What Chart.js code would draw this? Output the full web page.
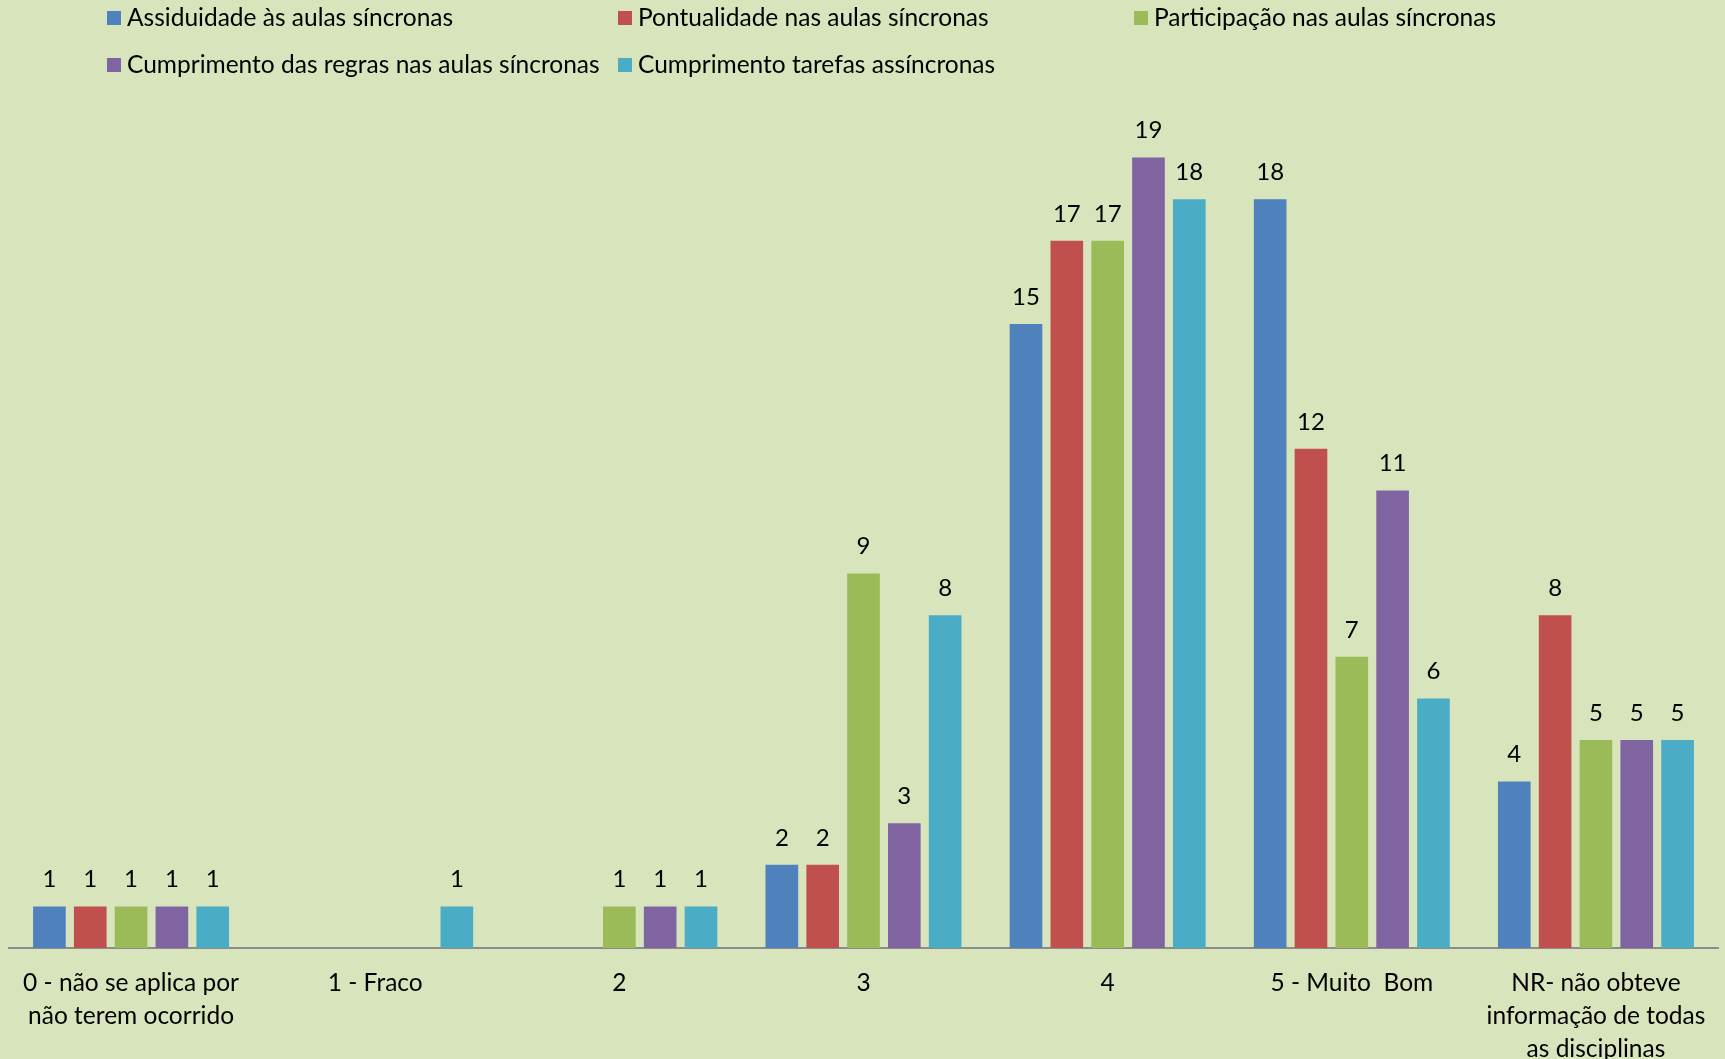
<!DOCTYPE html>
<html lang="pt">
<head>
<meta charset="UTF-8">
<title>Avaliação das aulas</title>
<style>
  html, body { margin: 0; padding: 0; background: #D8E4BC; }
  #wrap { width: 1725px; height: 1059px; }
</style>
</head>
<body>
<div id="wrap"><canvas id="grafico" width="1725" height="1059"></canvas></div>

<script src="https://cdn.jsdelivr.net/npm/chart.js"></script>
<script>
// categorias (eixo x)
const categorias = [
    ['0 - não se aplica por', 'não terem ocorrido'],
    ['1 - Fraco'],
    ['2'],
    ['3'],
    ['4'],
    ['5 - Muito  Bom'],
    ['NR- não obteve', 'informação de todas', 'as disciplinas']
];

const series = [
    'Assiduidade às aulas síncronas',
    'Pontualidade nas aulas síncronas',
    'Participação nas aulas síncronas',
    'Cumprimento das regras nas aulas síncronas',
    'Cumprimento tarefas assíncronas'
];

const assiduidade  = [1, 0, 0, 2, 15, 18, 4];
const pontualidade = [1, 0, 0, 2, 17, 12, 8];
const participacao = [1, 0, 1, 9, 17, 7, 5];
const regras       = [1, 0, 1, 3, 19, 11, 5];
const tarefas      = [1, 1, 1, 8, 18, 6, 5];

const cores = ['#4F81BD', '#C0504D', '#9BBB59', '#8064A2', '#4BACC6'];
const fonte = 'Lato, "Open Sans", sans-serif';

// fundo verde claro
const fundo = {
    id: 'fundo',
    beforeDraw(chart) {
        const c = chart.ctx;
        c.save();
        c.fillStyle = '#D8E4BC';
        c.fillRect(0, 0, chart.width, chart.height);
        c.restore();
    }
};

// valores por cima das barras
const rotulos = {
    id: 'rotulos',
    afterDatasetsDraw(chart) {
        const c = chart.ctx;
        c.save();
        c.font = '24px ' + fonte;
        c.fillStyle = '#000';
        c.textAlign = 'center';
        c.textBaseline = 'middle';
        chart.data.datasets.forEach((ds, i) => {
            const meta = chart.getDatasetMeta(i);
            meta.data.forEach((bar, j) => {
                const v = ds.data[j];
                if (!v) return;
                c.fillText(String(v), bar.x, bar.y - 27);
            });
        });
        c.restore();
    }
};

// legenda em colunas como no Excel
const legenda = {
    id: 'legenda',
    afterDraw(chart) {
        const c = chart.ctx;
        const pos = [[107, 18], [618, 18], [1134, 18], [107, 65], [618, 65]];
        c.save();
        c.font = '24.5px ' + fonte;
        c.textBaseline = 'middle';
        c.textAlign = 'left';
        chart.data.datasets.forEach((ds, i) => {
            const [x, y] = pos[i];
            c.fillStyle = ds.backgroundColor;
            c.fillRect(x, y - 7, 14, 14);
            c.fillStyle = '#000';
            c.fillText(ds.label, x + 20, y);
        });
        c.restore();
    }
};

const valores = [assiduidade, pontualidade, participacao, regras, tarefas];

new Chart(document.getElementById('grafico'), {
    type: 'bar',
    data: {
        labels: categorias,
        datasets: series.map((nome, i) => ({
            label: nome,
            data: valores[i],
            backgroundColor: cores[i],
            barPercentage: 0.8,
            categoryPercentage: 0.836
        }))
    },
    options: {
        responsive: false,
        animation: false,
        layout: { padding: { top: 116, left: 9, right: 7, bottom: 0 } },
        plugins: {
            legend: { display: false },
            tooltip: { enabled: false }
        },
        scales: {
            x: {
                grid: { display: false, drawTicks: false },
                border: { display: true, color: '#8C8C8C', width: 2 },
                ticks: {
                    color: '#000',
                    padding: 19,
                    maxRotation: 0,
                    autoSkip: false,
                    font: { family: fonte, size: 24.5, lineHeight: 1.34 }
                },
                afterFit(scale) { scale.height = 111; }
            },
            y: {
                display: false,
                min: 0,
                max: 20
            }
        }
    },
    plugins: [fundo, rotulos, legenda]
});
</script>
</body>
</html>
